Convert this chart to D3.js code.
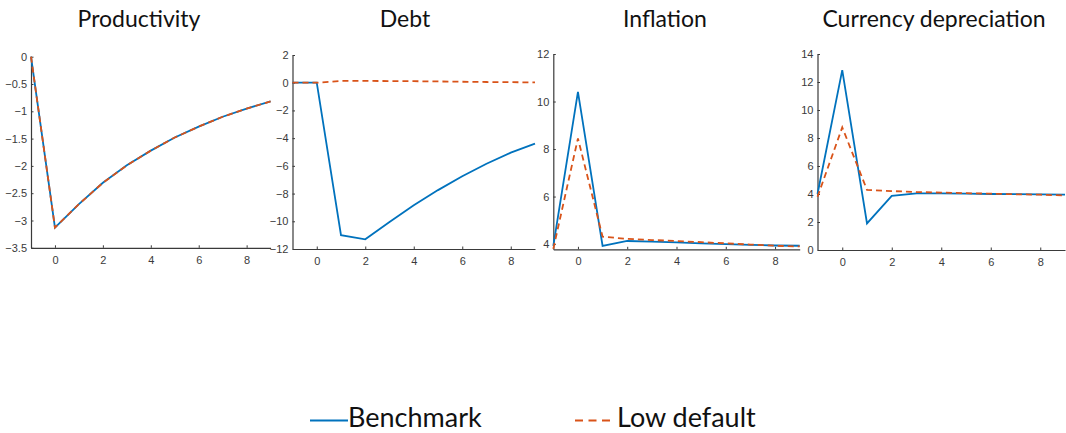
<!DOCTYPE html>
<html>
<head>
<meta charset="utf-8">
<script src="https://cdn.jsdelivr.net/npm/d3@7/dist/d3.min.js"></script>
<style>
  html, body { margin: 0; padding: 0; background: #fff; }
  svg { display: block; }
  .tick text { font-family: "Liberation Sans", Arial, sans-serif; font-size: 11px; fill: #3a3a3a; }
  .title { font-family: Lato, "Open Sans", sans-serif; font-size: 23px; fill: #111; }
  .legend { font-family: Lato, "Open Sans", sans-serif; font-size: 27px; fill: #111; }
</style>
</head>
<body>
<script>
// Horizons (quarters after the shock)
const periods = [-1, 0, 1, 2, 3, 4, 5, 6, 7, 8, 9];
const xTicks = [0, 2, 4, 6, 8];

// Impulse responses: benchmark economy
const productivityBench = [0, -3.13, -2.70, -2.31, -1.99, -1.72, -1.48, -1.28, -1.10, -0.95, -0.82];
const debtBench         = [0, 0, -11.0, -11.3, -10.05, -8.85, -7.75, -6.75, -5.85, -5.05, -4.4];
const inflationBench    = [3.92, 10.41, 3.92, 4.13, 4.1, 4.07, 4.03, 4.0, 3.97, 3.94, 3.93];
const currencyBench     = [4.0, 12.85, 1.9, 3.86, 4.05, 4.05, 4.02, 4.0, 3.99, 3.98, 3.95];

// Impulse responses: low default economy
const productivityLow = [0, -3.13, -2.70, -2.31, -1.99, -1.72, -1.48, -1.28, -1.10, -0.95, -0.82];
const debtLow         = [0, 0, 0.13, 0.13, 0.12, 0.11, 0.09, 0.07, 0.05, 0.04, 0.02];
const inflationLow    = [3.8, 8.45, 4.31, 4.22, 4.17, 4.13, 4.08, 4.03, 3.98, 3.93, 3.9];
const currencyLow     = [3.8, 8.76, 4.29, 4.21, 4.14, 4.1, 4.06, 4.02, 3.98, 3.95, 3.9];

const titles = ["Productivity", "Debt", "Inflation", "Currency depreciation"];
const yDomains = [[-3.5, 0], [-12, 2], [3.78, 12], [0, 14]];
const yTickSets = [
  [0, -0.5, -1, -1.5, -2, -2.5, -3, -3.5],
  [2, 0, -2, -4, -6, -8, -10, -12],
  [4, 6, 8, 10, 12],
  [0, 2, 4, 6, 8, 10, 12, 14]
];
const benchSeries = [productivityBench, debtBench, inflationBench, currencyBench];
const lowSeries = [productivityLow, debtLow, inflationLow, currencyLow];
const legendLabels = ["Benchmark", "Low default"];

const colors = { bench: "#0072BD", low: "#D95319" };

// Panel frames: left, right, top, bottom (pixels)
const frames = [
  { l: 31,    r: 270.6, t: 56.7, b: 247.8 },
  { l: 292.5, r: 535,   t: 55,   b: 249 },
  { l: 553.3, r: 799.7, t: 54,   b: 249.3 },
  { l: 817.5, r: 1065,  t: 54,   b: 250 }
];
const titleCenters = [139, 405, 665, 934];

const svg = d3.select("body").append("svg")
  .attr("width", 1066).attr("height", 433);

frames.forEach((f, i) => {
  const x = d3.scaleLinear().domain([-1, 9]).range([f.l, f.r]);
  const y = d3.scaleLinear().domain(yDomains[i]).range([f.b, f.t]);
  const g = svg.append("g");

  const xAxis = g.append("g").attr("transform", `translate(0,${f.b})`)
    .call(d3.axisBottom(x).tickValues(xTicks).tickSize(-2.5).tickPadding(8).tickSizeOuter(0));
  const yAxis = g.append("g").attr("transform", `translate(${f.l},0)`)
    .call(d3.axisLeft(y).tickValues(yTickSets[i]).tickSize(-2.5).tickPadding(4).tickSizeOuter(0)
      .tickFormat(d3.format("")));
  [xAxis, yAxis].forEach(a => {
    a.select(".domain").attr("stroke", "#3a3a3a").attr("stroke-width", 1.2);
    a.selectAll(".tick line").attr("stroke", "#3a3a3a");
  });

  const line = d3.line().x((d, k) => x(periods[k])).y(d => y(d));
  g.append("path").datum(benchSeries[i]).attr("d", line)
    .attr("fill", "none").attr("stroke", colors.bench).attr("stroke-width", 1.8);
  g.append("path").datum(lowSeries[i]).attr("d", line)
    .attr("fill", "none").attr("stroke", colors.low).attr("stroke-width", 1.8)
    .attr("stroke-dasharray", "6,4");

  svg.append("text").attr("class", "title")
    .attr("x", titleCenters[i]).attr("y", 27)
    .attr("text-anchor", "middle").text(titles[i]);
});

// Legend
const legend = svg.append("g");
legend.append("line").attr("x1", 310).attr("x2", 348).attr("y1", 420.5).attr("y2", 420.5)
  .attr("stroke", colors.bench).attr("stroke-width", 1.8);
legend.append("text").attr("class", "legend").attr("x", 348).attr("y", 427).text(legendLabels[0]);
legend.append("line").attr("x1", 575).attr("x2", 614).attr("y1", 420.5).attr("y2", 420.5)
  .attr("stroke", colors.low).attr("stroke-width", 1.8).attr("stroke-dasharray", "8,5.5");
legend.append("text").attr("class", "legend").attr("x", 617).attr("y", 427).text(legendLabels[1]);
</script>
</body>
</html>
